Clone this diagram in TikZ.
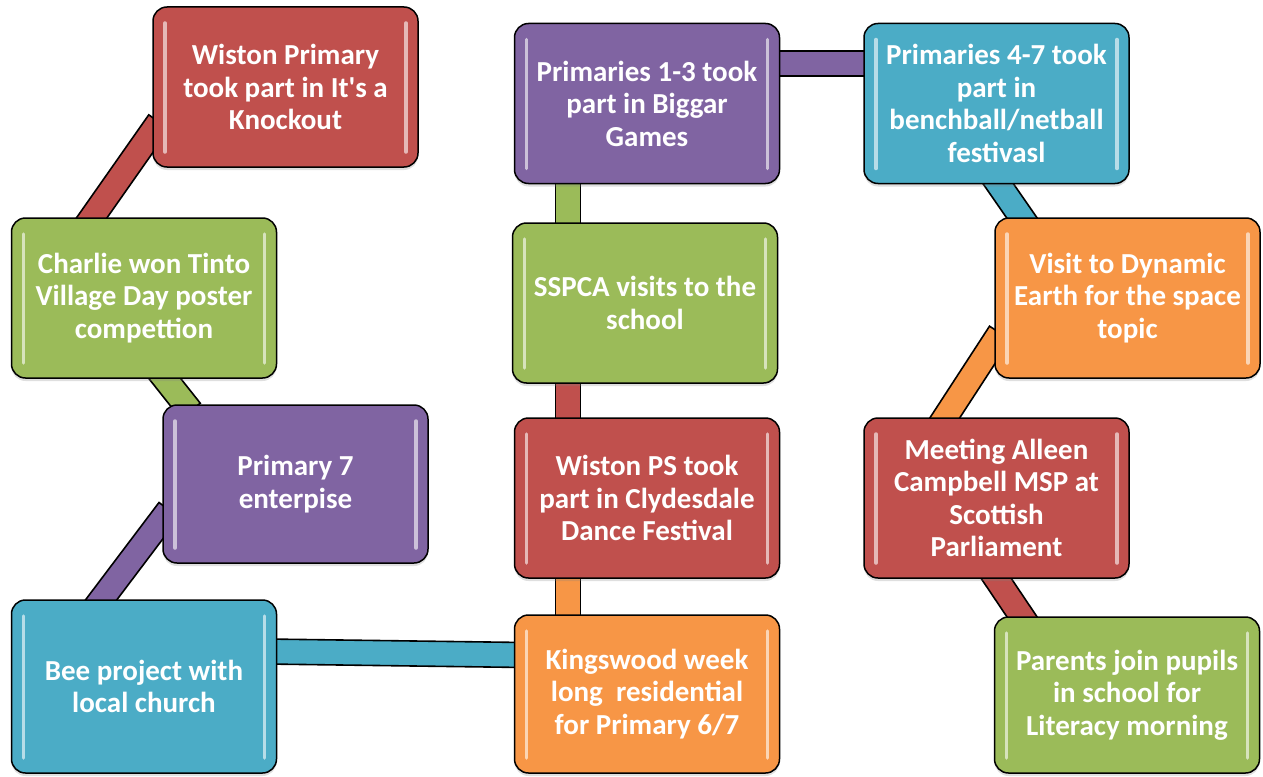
\documentclass[tikz,border=0pt]{standalone}
\usepackage{fontspec}
\setmainfont{Carlito}
\usetikzlibrary{calc,shadows,backgrounds}
\definecolor{cred}{HTML}{C0504D}
\definecolor{cgreen}{HTML}{9BBB59}
\definecolor{cpurple}{HTML}{8064A2}
\definecolor{cblue}{HTML}{4BACC6}
\definecolor{corange}{HTML}{F79646}
\begin{document}
\begin{tikzpicture}[x=1pt, y=-1pt,
    event/.style={draw=black, line width=1.5pt, fill=#1, rounded corners=14pt,
      minimum width=265pt, minimum height=160pt, inner sep=0pt, outer sep=0pt,
      text=white, align=center, font=\fontsize{29}{32.5}\selectfont\bfseries,
      drop shadow={opacity=0.25, shadow xshift=0pt, shadow yshift=-3pt},
      path picture={
        \draw[white, opacity=0.6, line width=3.5pt, line cap=round]
          ($(path picture bounding box.north west)+(12,16)$) -- ($(path picture bounding box.south west)+(12,-15)$)
          ($(path picture bounding box.north east)+(-12,16)$) -- ($(path picture bounding box.south east)+(-12,-15)$);}},
    bar/.style={draw=black, line width=1.6pt, fill=#1}]
  \useasboundingbox (0,0) rectangle (1263,776);
  \node[event=cred] (b1) at (285.5,87) {Wiston Primary\\took part in It\textquotesingle s a\\Knockout};
  \node[event=cgreen] (b2) at (144,298) {Charlie won Tinto\\Village Day poster\\compettion};
  \node[event=cpurple, minimum height=158pt] (b3) at (295.5,484) {Primary 7\\enterpise};
  \node[event=cblue, minimum height=173pt] (b4) at (144,686.5) {Bee project with\\local church};
  \node[event=corange, minimum height=158pt] (b5) at (647,694) {Kingswood week\\long\ \ residential\\for Primary 6/7};
  \node[event=cred] (b6) at (647,498) {Wiston PS took\\part in Clydesdale\\Dance Festival};
  \node[event=cgreen] (b7) at (645,303) {SSPCA visits to the\\school};
  \node[event=cpurple] (b8) at (647,103.5) {Primaries 1-3 took\\part in Biggar\\Games};
  \node[event=cblue] (b9) at (996.5,103.5) {Primaries 4-7 took\\part in\\benchball/netball\\festivasl};
  \node[event=corange] (b10) at (1127.5,298) {Visit to Dynamic\\Earth for the space\\topic};
  \node[event=cred] (b11) at (996.5,498) {Meeting Alleen\\Campbell MSP at\\Scottish\\Parliament};
  \node[event=cgreen, minimum height=156pt] (b12) at (1127,695) {Parents join pupils\\in school for\\Literacy morning};
  % bar ends, just inside the boxes
  \coordinate (p1) at ($(b1.west)+(6,35)$);     \coordinate (q1) at ($(b2.north)+(-58,8)$);
  \coordinate (p2) at ($(b2.south)+(14,-8)$);   \coordinate (q2) at ($(b3.north)+(-105,6)$);
  \coordinate (p3) at ($(b3.west)+(6,26)$);     \coordinate (q3) at ($(b4.north)+(-49,8)$);
  \coordinate (p4) at ($(b4.east)+(-10,-35)$);  \coordinate (q4) at ($(b5.west)+(10,-39)$);
  \coordinate (p5) at ($(b5.north)+(-79,10)$);  \coordinate (q5) at ($(b6.south)+(-79,-10)$);
  \coordinate (p6) at ($(b6.north)+(-79,10)$);  \coordinate (q6) at ($(b7.south)+(-77,-10)$);
  \coordinate (p7) at ($(b7.north)+(-77,10)$);  \coordinate (q7) at ($(b8.south)+(-79,-10)$);
  \coordinate (p8) at ($(b8.east)+(-10,-40)$);  \coordinate (q8) at ($(b9.west)+(10,-40)$);
  \coordinate (p9) at ($(b9.south)+(-4,-8)$);   \coordinate (q9) at ($(b10.north)+(-100,8)$);
  \coordinate (p10) at ($(b10.west)+(5,35)$);   \coordinate (q10) at ($(b11.north)+(-57,8)$);
  \coordinate (p11) at ($(b11.south)+(-6,-8)$); \coordinate (q11) at ($(b12.north)+(-99.5,8)$);
  \begin{scope}[on background layer]
    \foreach \a/\b/\c in {p1/q1/cred, p2/q2/cgreen, p3/q3/cpurple, p4/q4/cblue,
        p5/q5/corange, p6/q6/cred, p7/q7/cgreen, p8/q8/cpurple, p9/q9/cblue,
        p10/q10/corange, p11/q11/cred}
      \draw[bar=\c] ($(\a)!12.5pt!90:(\b)$) -- ($(\b)!12.5pt!-90:(\a)$)
        -- ($(\b)!12.5pt!90:(\a)$) -- ($(\a)!12.5pt!-90:(\b)$) -- cycle;
  \end{scope}
\end{tikzpicture}
\end{document}
